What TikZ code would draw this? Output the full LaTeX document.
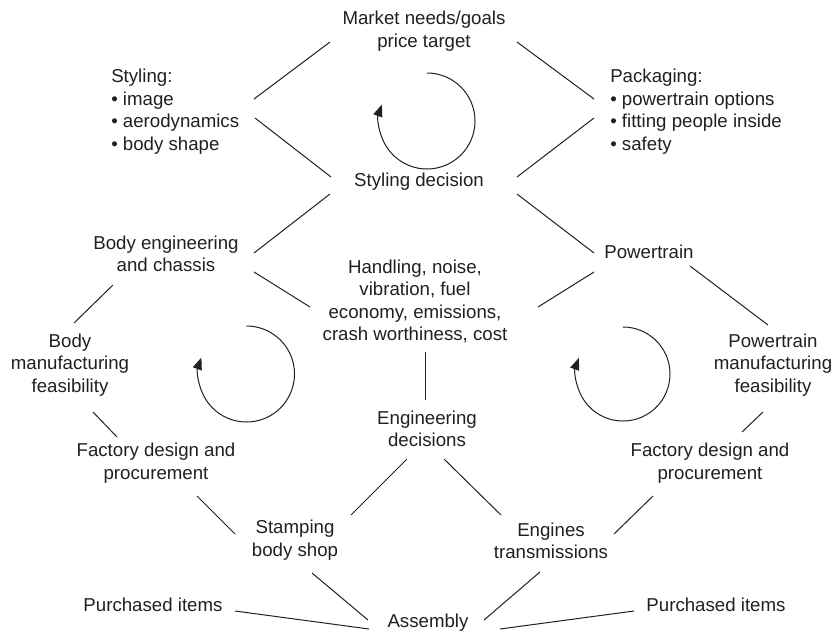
\documentclass[tikz,border=0pt]{standalone}
\usepackage{fontspec}
\setmainfont{Liberation Sans}
\usetikzlibrary{arrows.meta}
\definecolor{inkColor}{RGB}{35,31,32}
\tikzstyle{chart} = [x = 0.75pt, y = -0.75pt]
\tikzstyle{stepText} = [font=\fontsize{14}{16.8}\selectfont, color=inkColor, align=center, inner sep=0pt]
\tikzstyle{listText} = [stepText, align=left, anchor=west]
\tikzstyle{linkLine} = [color=inkColor, line width=0.75pt]
\tikzstyle{cycleLine} = [color=inkColor, line width=0.75pt, -{Triangle[length=9pt, width=7pt]}]
\newcommand{\link}[4]{\draw [linkLine] ([shift={(#2)}]#1) -- ([shift={(#4)}]#3);}
\newcommand{\cycleArrow}[3]{\draw [cycleLine] (#1, #2) ++ (-90:#3) arc (-90:200:#3);}

\begin{document}
\begin{tikzpicture}[chart]
        \useasboundingbox (0, 0) rectangle (833, 632);

        % decisions and inputs
        \node [stepText] (market) at (424, 31) {Market needs/goals\\price target};
        \node [listText] (styling) at (111, 111.7) {Styling:\\\textbullet\ image\\\textbullet\ aerodynamics\\\textbullet\ body shape};
        \node [listText] (packaging) at (610, 111.7) {Packaging:\\\textbullet\ powertrain options\\\textbullet\ fitting people inside\\\textbullet\ safety};
        \node [stepText, anchor=base] (decision) at (419, 186) {Styling decision};
        \node [stepText] (body) at (166, 254) {Body engineering\\and chassis};
        \node [stepText] (handling) at (415, 301.6) {Handling, noise,\\vibration, fuel\\economy, emissions,\\crash worthiness, cost};
        \node [stepText, anchor=base] (powertrain) at (649, 258) {Powertrain};
        \node [stepText] (bodyFeasibility) at (70, 365) {Body\\manufacturing\\feasibility};
        \node [stepText] (powertrainFeasibility) at (773, 365) {Powertrain\\manufacturing\\feasibility};
        \node [stepText] (decisions) at (427, 429) {Engineering\\decisions};
        \node [stepText] (bodyFactory) at (156, 463) {Factory design and\\procurement};
        \node [stepText] (powertrainFactory) at (710, 463) {Factory design and\\procurement};
        \node [stepText] (stamping) at (295, 540) {Stamping\\body shop};
        \node [stepText] (engines) at (551, 541) {Engines\\transmissions};
        \node [stepText, anchor=base] (leftItems) at (153, 611.5) {Purchased items};
        \node [stepText, anchor=base] (assembly) at (428, 627.5) {Assembly};
        \node [stepText, anchor=base] (rightItems) at (716, 611.5) {Purchased items};

        % links
        \link{market.center}{-94,11}{styling.west}{143,-12.7}
        \link{market.center}{93,11}{packaging.west}{-16,-12.7}
        \link{styling.west}{144,6.3}{decision.base}{-88,-9}
        \link{packaging.west}{-16,6.3}{decision.base}{98,-9}
        \link{decision.base}{-89,8}{body.center}{88,-1}
        \link{decision.base}{98,8}{powertrain.base}{-55,-5}
        \link{body.center}{88,18}{handling.center}{-105,5.4}
        \link{handling.center}{123,5.4}{powertrain.base}{-55,14}
        \link{body.center}{-53,31}{bodyFeasibility.center}{4,-42}
        \link{powertrain.base}{41,8}{powertrainFeasibility.center}{-5,-40}
        \link{handling.center}{10,50.4}{decisions.center}{-2,-29}
        \link{bodyFeasibility.center}{23,47}{bodyFactory.center}{-39,-26}
        \link{powertrainFeasibility.center}{-10,47}{powertrainFactory.center}{32,-31}
        \link{bodyFactory.center}{41,33}{stamping.center}{-60,-6}
        \link{decisions.center}{-20,30}{stamping.center}{56,-25}
        \link{decisions.center}{17,30}{engines.center}{-50,-26}
        \link{powertrainFactory.center}{-57,33}{engines.center}{63,-7}
        \link{stamping.center}{17,33}{assembly.base}{-60,-7.5}
        \link{engines.center}{-11,31}{assembly.base}{56,-7.5}
        \link{leftItems.base}{82,-0.5}{assembly.base}{-59,1.5}
        \link{assembly.base}{72,1.5}{rightItems.base}{-82,-0.5}

        % iteration loops
        \cycleArrow{427}{121}{48}
        \cycleArrow{246.5}{374}{48}
        \cycleArrow{623}{374}{47}
      \end{tikzpicture}
\end{document}
